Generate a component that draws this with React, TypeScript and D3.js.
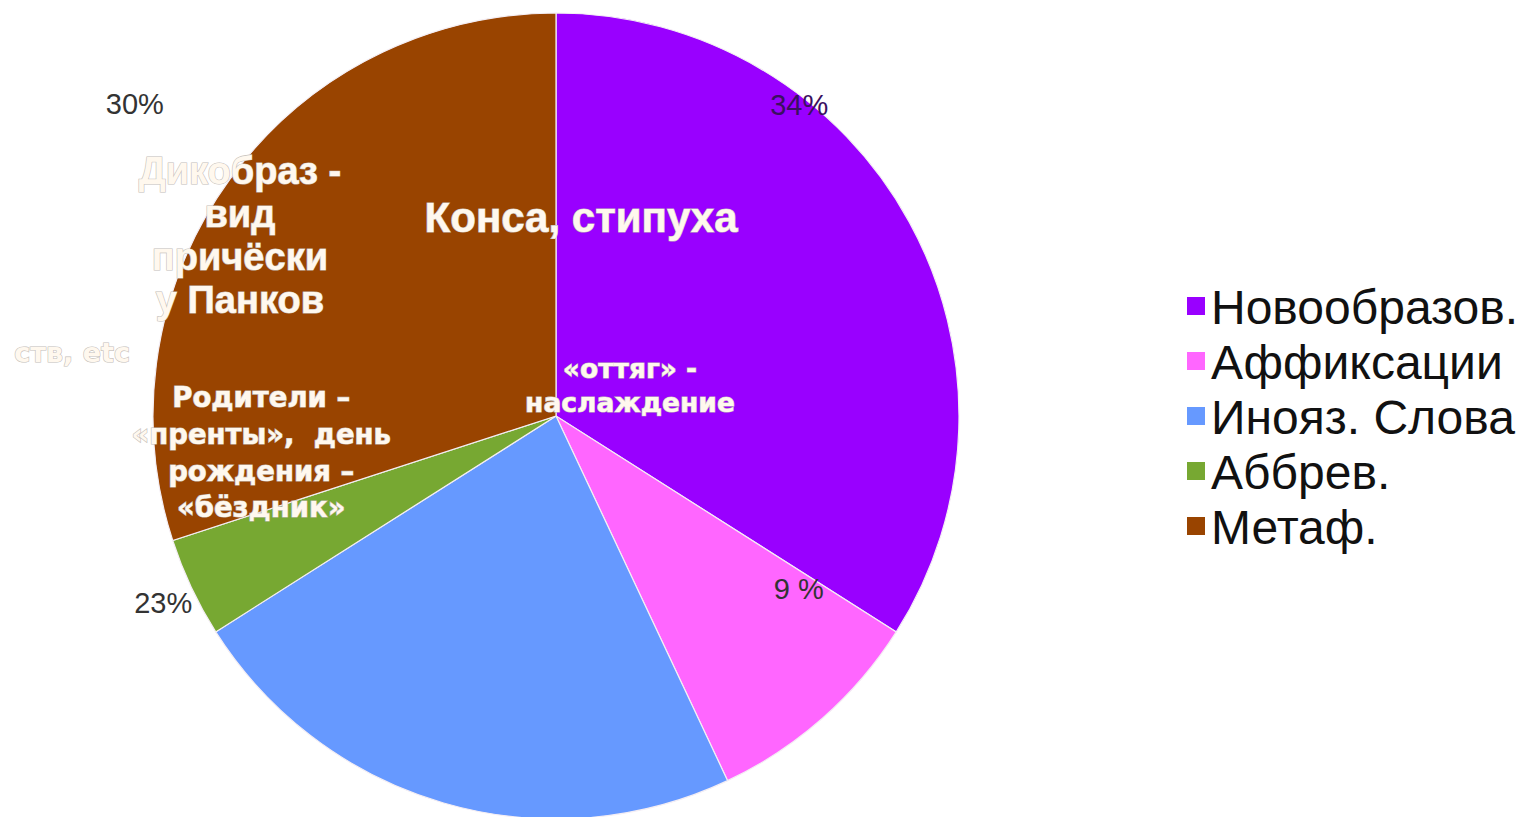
import { useEffect, useRef } from 'react';
import * as d3 from 'd3';

const categories = ['Новообразов.', 'Аффиксации', 'Инояз. Слова', 'Аббрев.', 'Метаф.'];
const shares = [34, 9, 23, 4, 30];
const colors = ['#9900ff', '#ff66ff', '#6699ff', '#77a832', '#994400'];
const pctLabels = ['34%', '9 %', '23%', '', '30%'];
// where each percent label sits: angle in degrees (clockwise from top), radius as fraction of pie radius
const pctPlacement = [
  { angle: 38, k: 0.98 },
  { angle: 125.5, k: 0.74 },
  { angle: 244.5, k: 1.08 },
  { angle: 0, k: 0 },
  { angle: 306.5, k: 1.3 },
];

const ARIAL = '"Liberation Sans", Arial, sans-serif';
const VERDANA = '"DejaVu Sans", Verdana, sans-serif';

// white annotations, angle/radius relative to the pie centre
const notes = [
  { lines: ['Конса, стипуха'], angle: 7.2, k: 0.496, size: 42, gap: 0, font: ARIAL },
  { lines: ['«оттяг» -', 'наслаждение'], angle: 67.3, k: 0.199, size: 26.5, gap: 34, font: VERDANA },
  { lines: ['Дикобраз -', 'вид', 'причёски', 'у Панков'], angle: 299.7, k: 0.903, size: 38, gap: 43, font: ARIAL },
  { lines: ['Родители –', '«пренты»,  день', 'рождения –', '«бёздник»'], angle: 263, k: 0.737, size: 27.5, gap: 36.7, font: VERDANA },
  { lines: ['ств, etc'], angle: 277.5, k: 1.211, size: 27, gap: 0, font: VERDANA },
];

const W = 1524;
const H = 817;
const cx = 556;
const cy = 416;
const R = 403;

const App = () => {
  const svgRef = useRef<SVGSVGElement>(null);

  useEffect(() => {
    const svg = d3.select(svgRef.current);
    svg.selectAll('*').remove();

    const rows = categories.map((c, i) => ({ name: c, value: shares[i], color: colors[i] }));
    const pie = d3.pie<any>().sort(null).value((d) => d.value);
    const arc = d3.arc<any>().innerRadius(0).outerRadius(R);

    const g = svg.append('g').attr('transform', `translate(${cx},${cy})`);
    g.selectAll('path')
      .data(pie(rows))
      .join('path')
      .attr('d', arc)
      .attr('fill', (d) => d.data.color)
      .attr('stroke', '#f4eef4')
      .attr('stroke-width', 1.2);

    const polar = (angle: number, k: number) => {
      const a = (angle * Math.PI) / 180;
      return [Math.sin(a) * R * k, -Math.cos(a) * R * k];
    };

    pctLabels.forEach((t, i) => {
      if (!t) return;
      const [x, y] = polar(pctPlacement[i].angle, pctPlacement[i].k);
      g.append('text')
        .attr('x', x)
        .attr('y', y)
        .attr('text-anchor', 'middle')
        .attr('dominant-baseline', 'central')
        .attr('font-family', ARIAL)
        .attr('font-size', 29)
        .attr('fill', i === 0 ? '#3a1060' : '#333')
        .text(t);
    });

    notes.forEach((n) => {
      const [x, y] = polar(n.angle, n.k);
      const t = g
        .append('text')
        .attr('text-anchor', 'middle')
        .attr('font-family', n.font)
        .attr('font-weight', 'bold')
        .attr('font-size', n.size)
        .attr('fill', '#fff8ee')
        .attr('stroke', '#c4beba')
        .attr('stroke-width', 1.2)
        .attr('paint-order', 'stroke')
        .style('white-space', 'pre');
      const top = y - ((n.lines.length - 1) * n.gap) / 2;
      n.lines.forEach((l, j) => {
        t.append('tspan')
          .attr('x', x)
          .attr('y', top + j * n.gap)
          .attr('dominant-baseline', 'central')
          .text(l);
      });
    });

    const legend = svg.append('g').attr('transform', 'translate(1187,306)');
    const ly = d3.scaleBand().domain(categories).range([0, 275]).paddingInner(0);
    const item = legend
      .selectAll('g')
      .data(rows)
      .join('g')
      .attr('transform', (d) => `translate(0,${ly(d.name)})`);
    item
      .append('rect')
      .attr('x', 0)
      .attr('y', -9)
      .attr('width', 18)
      .attr('height', 18)
      .attr('fill', (d) => d.color);
    item
      .append('text')
      .attr('x', 24)
      .attr('y', 1)
      .attr('dominant-baseline', 'central')
      .attr('font-family', ARIAL)
      .attr('font-size', 48)
      .attr('fill', '#111')
      .text((d) => d.name);
  }, []);

  return (
    <svg
      ref={svgRef}
      width={W}
      height={H}
      style={{ position: 'absolute', left: 0, top: 0, background: '#fff' }}
    />
  );
};

export default App;
